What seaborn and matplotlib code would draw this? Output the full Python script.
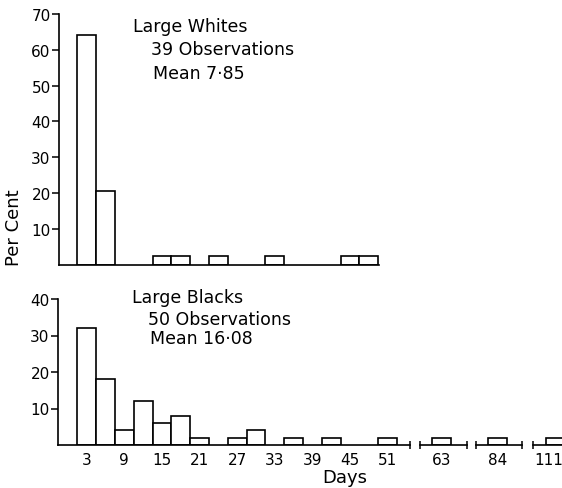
import numpy as np
import pandas as pd
import matplotlib
matplotlib.use("Agg")
import matplotlib.pyplot as plt
import seaborn as sns

# ---- data ----
white_days = [3, 6, 15, 18, 24, 33, 45, 48]
white_pct = [64.1, 20.5, 2.56, 2.56, 2.56, 2.56, 2.56, 2.56]

black_days = [3, 6, 9, 12, 15, 18, 21, 27, 30, 36, 42, 51, 63, 84, 111]
black_pct = [32, 18, 4, 12, 6, 8, 2, 2, 4, 2, 2, 2, 2, 2, 2]

main_ticks = [3, 9, 15, 21, 27, 33, 39, 45, 51]
white_yticks = [10, 20, 30, 40, 50, 60, 70]
black_yticks = [10, 20, 30, 40]

white_df = pd.DataFrame({"day": white_days, "pct": white_pct})
black_df = pd.DataFrame({"day": black_days, "pct": black_pct})

sns.set_theme(style="white")
plt.rcParams["font.family"] = ["DejaVu Sans"]
plt.rcParams["text.color"] = "black"
plt.rcParams["axes.labelcolor"] = "black"
plt.rcParams["xtick.color"] = "black"
plt.rcParams["ytick.color"] = "black"

W, H = 562, 489
fig = plt.figure(figsize=(W / 100, H / 100), dpi=100)

PX_PER_DAY = 6.27
X0_PX = 86.7  # pixel of day 3


def px_to_day(px):
    return 3 + (px - X0_PX) / PX_PER_DAY


def add_ax(left_px, right_px, top_px, bottom_px):
    return fig.add_axes([left_px / W, 1 - bottom_px / H,
                         (right_px - left_px) / W, (bottom_px - top_px) / H])


bar_kw = dict(x="day", y="pct", native_scale=True, color="white",
              edgecolor="black", linewidth=1.2, saturation=1, width=1,
              errorbar=None)

lw = 1.2
tick_fs = 11

# ---- top panel: Large Whites ----
axt = add_ax(59, 379, 15, 265.7)
sns.barplot(data=white_df, ax=axt, **bar_kw)
axt.set_xlim(px_to_day(59), px_to_day(379))
axt.set_ylim(0, 70)
axt.set_yticks(white_yticks)
axt.set_yticklabels([str(v) for v in white_yticks], fontsize=tick_fs)
axt.set_xticks([])
axt.set_xlabel("")
axt.set_ylabel("")

# ---- bottom main panel: Large Blacks ----
axb = add_ax(58, 410, 300, 446)
sns.barplot(data=black_df, ax=axb, **bar_kw)
axb.set_xlim(px_to_day(58), px_to_day(410))
axb.set_ylim(0, 40)
axb.set_yticks(black_yticks)
axb.set_yticklabels([str(v) for v in black_yticks], fontsize=tick_fs)
axb.set_xticks(main_ticks)
axb.set_xticklabels([str(v) for v in main_ticks], fontsize=tick_fs)
axb.set_xlabel("")
axb.set_ylabel("")
axb.plot([1], [0], transform=axb.transAxes, marker="|", ms=6,
         color="black", mew=1.1, clip_on=False)

for ax in (axt, axb):
    for s in ("top", "right"):
        ax.spines[s].set_visible(False)
    for s in ("left", "bottom"):
        ax.spines[s].set_color("black")
        ax.spines[s].set_linewidth(lw)
    ax.tick_params(axis="y", direction="out", length=5, width=1.1,
                   color="black", pad=1, left=True, labelcolor="black")
    ax.tick_params(axis="x", length=0, pad=5, labelcolor="black")
    ax.patch.set_alpha(0)

# ---- broken-axis segments for 63, 84, 111 ----
segments = [(63, 420, 467, 441.2), (84, 476, 522, 497.7), (111, 533, 562, 555.0)]
for day, lpx, rpx, centre_px in segments:
    ax = add_ax(lpx, rpx, 300, 446)
    sns.barplot(data=black_df, ax=ax, **bar_kw)
    ax.set_xlim(day - (centre_px - lpx) / PX_PER_DAY,
                day + (rpx - centre_px) / PX_PER_DAY)
    ax.set_ylim(0, 40)
    ax.set_yticks([])
    # keep the last label inside the picture
    tick_pos = day if day != 111 else day - 1.0
    ax.set_xticks([tick_pos])
    ax.set_xticklabels([str(day)], fontsize=tick_fs)
    ax.set_xlabel("")
    ax.set_ylabel("")
    for s in ("top", "right", "left"):
        ax.spines[s].set_visible(False)
    ax.spines["bottom"].set_color("black")
    ax.spines["bottom"].set_linewidth(lw)
    ax.tick_params(axis="x", length=0, pad=5, labelcolor="black")
    ax.patch.set_alpha(0)
    ends = [0, 1] if day != 111 else [0]
    ax.plot(ends, [0] * len(ends), transform=ax.transAxes, marker="|",
            ms=6, ls="none", color="black", mew=1.1, clip_on=False)

# ---- texts ----
fs = 12.5
fig.text(133 / W, 1 - 18 / H, "Large Whites", fontsize=fs, va="top", ha="left")
fig.text(151 / W, 1 - 41 / H, "39 Observations", fontsize=fs, va="top", ha="left")
fig.text(153 / W, 1 - 65 / H, "Mean 7·85", fontsize=fs, va="top", ha="left")

fig.text(132 / W, 1 - 289 / H, "Large Blacks", fontsize=fs, va="top", ha="left")
fig.text(148 / W, 1 - 311 / H, "50 Observations", fontsize=fs, va="top", ha="left")
fig.text(150 / W, 1 - 330 / H, "Mean 16·08", fontsize=fs, va="top", ha="left")

fig.text(14 / W, 1 - 228 / H, "Per Cent", fontsize=13, rotation=90,
         va="center", ha="center")
fig.text(345 / W, 1 - 478 / H, "Days", fontsize=13, va="center", ha="center")

fig.savefig("out.png", dpi=100, facecolor="white")
